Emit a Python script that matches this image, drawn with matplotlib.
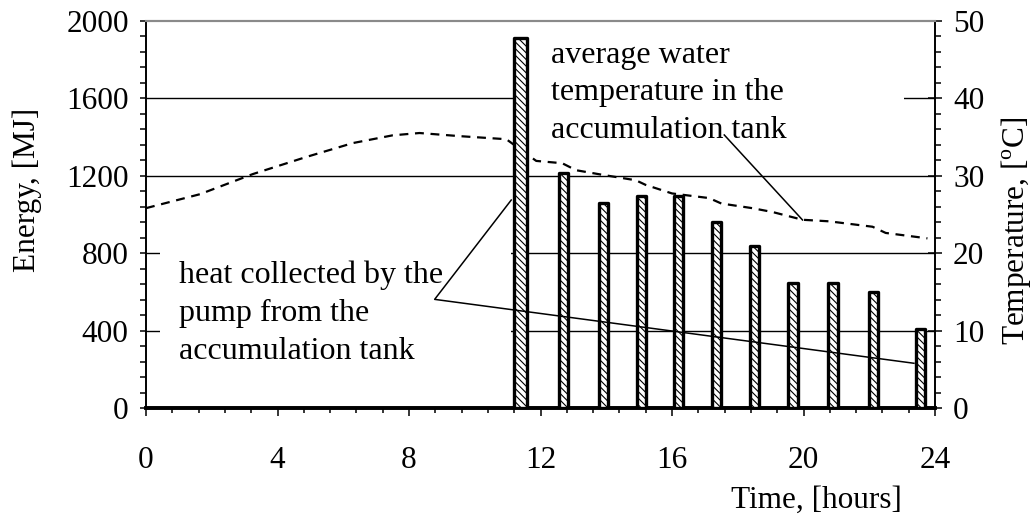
import matplotlib
matplotlib.use("Agg")
import matplotlib.pyplot as plt
from matplotlib.patches import Rectangle
from matplotlib.ticker import MultipleLocator

plt.rcParams['font.family'] = ['Liberation Serif', 'DejaVu Serif']
plt.rcParams['mathtext.fontset'] = 'custom'
plt.rcParams['mathtext.rm'] = 'Liberation Serif'
plt.rcParams['hatch.linewidth'] = 0.8

# ---- data ----
bar_hours = [11.39, 12.70, 13.92, 15.08, 16.20, 17.35, 18.51, 19.68, 20.90, 22.14, 23.55]
bar_energy = [1910, 1212, 1060, 1095, 1095, 960, 838, 648, 648, 598, 408]

temp_hours = [0.0, 1.64, 3.25, 4.87, 6.29, 7.5, 8.32, 9.53, 10.96, 11.87, 12.66, 13.08,
              13.89, 14.9, 15.2, 16.0, 17.13, 17.5, 18.44, 19.06, 19.97, 20.78, 22.1,
              22.5, 23.77]
temp_values = [25.8, 27.6, 30.2, 32.4, 34.2, 35.2, 35.5, 35.1, 34.7, 31.9, 31.6, 30.7,
               30.1, 29.4, 28.8, 27.7, 27.1, 26.4, 25.8, 25.3, 24.3, 24.1, 23.4,
               22.6, 21.9]

x_ticks = [0, 4, 8, 12, 16, 20, 24]
energy_ticks = [0, 400, 800, 1200, 1600, 2000]
temp_ticks = [0, 10, 20, 30, 40, 50]

FS = 22.5
FS_ANN = 23

fig = plt.figure(figsize=(10.32, 5.23), dpi=100)
ax2 = fig.add_axes([146 / 1032, 1 - 408 / 523, 789 / 1032, 387.3 / 523])
ax1 = ax2.twinx()
ax1.set_zorder(ax2.get_zorder() + 1)
ax1.patch.set_visible(False)
ax1.xaxis.set_visible(True)

ax1.yaxis.set_label_position('left')
ax1.yaxis.tick_left()
ax2.yaxis.set_label_position('right')
ax2.yaxis.tick_right()

# temperature line (right axis)
ax2.plot(temp_hours, temp_values, color='black', lw=1.6, dashes=(4, 3))
ax2.set_ylim(0, 50)
ax2.set_xlim(0, 24)
ax2.set_yticks(temp_ticks)
ax2.yaxis.set_minor_locator(MultipleLocator(2))
ax2.tick_params(axis='y', which='major', direction='inout', length=10, width=1.1,
                labelsize=FS, pad=8, right=True, left=False)
ax2.tick_params(axis='y', which='minor', direction='out', length=4.5, width=1.1,
                right=True, left=False)
ax2.tick_params(axis='x', which='both', bottom=False, labelbottom=False)

# energy bars (left axis)
ax1.set_xlim(0, 24)
ax1.set_ylim(0, 2000)
widths = [0.42] + [0.28] * (len(bar_hours) - 1)
ax1.bar(bar_hours, bar_energy, width=widths, color='white', edgecolor='black',
        linewidth=2.4, hatch='\\' * 5, zorder=3, joinstyle='round')

# grid lines
for e in energy_ticks[1:-1]:
    ax1.axhline(e, color='black', lw=1.0, zorder=0.5)

# white boxes behind annotations (hide grid lines)
ax1.add_patch(Rectangle((0.43, 150), 11.09 - 0.43, 960 - 150, facecolor='white',
                        edgecolor='none', zorder=1))
ax1.add_patch(Rectangle((11.65, 1300), 23.05 - 11.65, 1990 - 1300, facecolor='white',
                        edgecolor='none', zorder=1))

# annotations
ax1.text(1.01, 253, 'heat collected by the\npump from the\naccumulation tank',
         fontsize=FS_ANN, va='baseline', ha='left', zorder=5, linespacing=1.4)
ax1.plot([11.11, 8.78, 23.36], [1074, 561, 231], color='black', lw=1.1, zorder=4)
ax1.text(12.32, 1393, 'average water\ntemperature in the\naccumulation tank',
         fontsize=FS_ANN, va='baseline', ha='left', zorder=5, linespacing=1.4)
ax1.plot([17.59, 19.97], [1410, 971], color='black', lw=1.1, zorder=4)

ax1.set_xticks(x_ticks)
ax1.xaxis.set_minor_locator(MultipleLocator(0.8))
ax1.set_yticks(energy_ticks)
ax1.yaxis.set_minor_locator(MultipleLocator(80))
ax1.tick_params(axis='x', which='major', direction='out', length=5.5, width=1.1,
                labelsize=FS, pad=22, bottom=True, labelbottom=True)
ax1.tick_params(axis='x', which='minor', direction='out', length=3.5, width=1.1,
                bottom=True)
ax1.tick_params(axis='y', which='major', direction='out', length=4.5, width=1.1,
                labelsize=FS, pad=8, left=True, right=False)
ax1.tick_params(axis='y', which='minor', direction='out', length=4, width=1.1,
                left=True, right=False)

for a in (ax1, ax2):
    a.spines['top'].set_color('#8a8a8a')
    a.spines['top'].set_linewidth(1.5)
    a.spines['left'].set_linewidth(1.2)
    a.spines['right'].set_linewidth(1.2)
    a.spines['bottom'].set_linewidth(2.6)

fig.text(27 / 1032, 1 - 190 / 523, 'Energy, [MJ]', rotation=90, ha='center',
         va='center', fontsize=FS)
fig.text(1016 / 1032, 1 - 231 / 523, r'Temperature, [$^{\mathrm{o}}$C]', rotation=90,
         ha='center', va='center', fontsize=FS)
fig.text(816 / 1032, 1 - 500 / 523, 'Time, [hours]', ha='center', va='center',
         fontsize=FS)

fig.savefig('out.png', dpi=100)
